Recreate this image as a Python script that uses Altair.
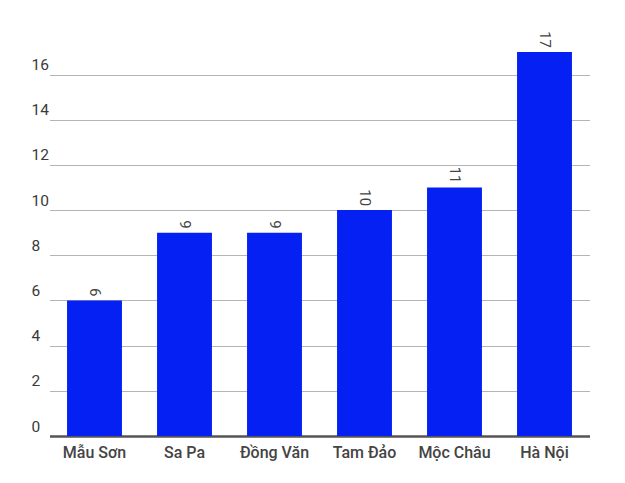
import altair as alt
import pandas as pd

places = ["Mẫu Sơn", "Sa Pa", "Đồng Văn", "Tam Đảo", "Mộc Châu", "Hà Nội"]
values = [6, 9, 9, 10, 11, 17]
y_ticks = [0, 2, 4, 6, 8, 10, 12, 14, 16]

df = pd.DataFrame({"place": places, "value": values})

FONT = "Roboto"

x = alt.X(
    "place:N",
    sort=places,
    title=None,
    scale=alt.Scale(range=[18.5, 558.5], paddingInner=0.39, paddingOuter=0.195),
    axis=alt.Axis(
        labelAngle=0,
        ticks=False,
        labelPadding=8,
        labelFont=FONT,
        labelFontSize=16,
        labelFontWeight=500,
        labelColor="#444444",
        domainColor="#555555",
        domainWidth=2.5,
        grid=False,
    ),
)
y = alt.Y(
    "value:Q",
    title=None,
    scale=alt.Scale(domain=[0, 17], nice=False, zero=True),
    axis=alt.Axis(
        values=y_ticks,
        ticks=False,
        domain=False,
        labelAlign="left",
        labelBaseline="alphabetic",
        labelPadding=0,
        labelOffset=-5,
        labelFont=FONT,
        labelFontSize=15.5,
        labelColor="#3a3a3a",
        gridColor="#b5b5b5",
        gridWidth=1,
        labelFlush=False,
    ),
)

bars = alt.Chart(df).mark_bar(color="#0420f2").encode(x=x, y=y)
labels = alt.Chart(df).mark_text(
    angle=90, align="right", baseline="middle", dx=-4,
    font=FONT, fontSize=15, color="#444444",
).encode(x=x, y=y, text="value:Q")

chart = (
    alt.layer(bars, labels)
    .properties(
        width=559,
        height=384,
        autosize=alt.AutoSizeParams(type="none"),
        padding={"left": 23, "top": 44, "right": 20, "bottom": 40},
    )
    .configure_view(stroke=None)
)

chart.save("out.html", embed_options={"renderer": "svg", "actions": False})
